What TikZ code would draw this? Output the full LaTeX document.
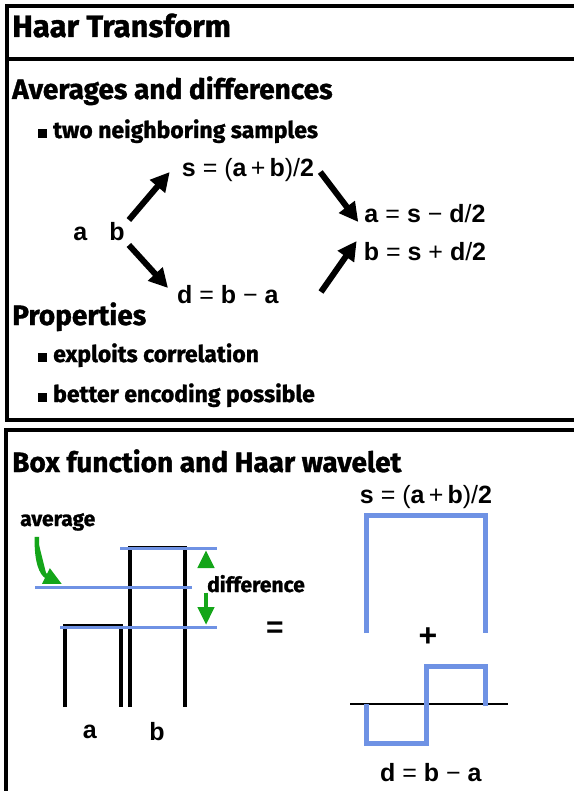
\documentclass[tikz,border=0pt]{standalone}
\usepackage{fontspec}
\setmainfont{Fira Sans}[BoldFeatures={FakeBold=1.2}]
\newfontfamily\formfont{Liberation Sans}
\usetikzlibrary{arrows.meta,positioning}
\definecolor{haarblue}{RGB}{111,146,228}
\definecolor{haargreen}{RGB}{20,165,25}
\newcommand{\sqbul}{\rule{9pt}{9pt}\hspace{6pt}}
\newcommand{\vb}[1]{\textbf{#1}}

\begin{document}
\begin{tikzpicture}[x=1pt, y=-1pt,
    frame/.style={line width=3.5pt},
    title/.style={font=\fontsize{31}{31}\selectfont\bfseries, anchor=base west, inner sep=0pt},
    head/.style={font=\fontsize{28}{28}\selectfont\bfseries, anchor=base west, inner sep=0pt},
    item/.style={font=\fontsize{23}{23}\selectfont\bfseries, anchor=base west, inner sep=0pt},
    form/.style={font=\formfont\fontsize{25}{25}\selectfont, inner sep=2pt},
    flow/.style={-{Triangle[length=19pt,width=19pt]}, line width=6pt},
    pointer/.style={-{Triangle[length=18pt,width=16pt]}, line width=4.5pt, draw=haargreen, fill=haargreen},
    bar/.style={line width=4pt},
    level/.style={draw=haarblue, line width=3pt},
    wave/.style={draw=haarblue, line width=5pt}
]
\useasboundingbox[fill=white] (0,0) rectangle (573,791);

% frames
\draw[frame] (576,6) -- (7,6) -- (7,420) -- (576,420);
\draw[frame] (7,59) -- (576,59);
\draw[frame] (576,430) -- (6,430) -- (6,795);

\node[title] (ttl) at (12,37) {Haar Transform};
\node[head] (avghead) at (12,99) {Averages and differences};
\node[item] (two) at (38,138) {\sqbul two neighboring samples};
\node[head] (prophead) at (12,325) {Properties};
\node[item] (expl) at (38,362) {\sqbul exploits correlation};
\node[item] (enc) at (38,402) {\sqbul better encoding possible};
\node[head] (boxhead) at (12,472) {Box function and Haar wavelet};

\node[form] (ab) at (99,232) {\vb{a}\hspace{22pt}\vb{b}};
\node[form] (s) at (248,170) {\vb{s} = (\vb{a}\,+\,\vb{b})/\vb{2}};
\node[form] (d) at (228,295) {\vb{d} = \vb{b} − \vb{a}};
\node[form] (ra) at (425,214) {\vb{a} = \vb{s} − \vb{d}/\vb{2}};
\node[form] (rb) at (425,252) {\vb{b} = \vb{s} + \vb{d}/\vb{2}};

\draw[flow] ([xshift=2pt,yshift=12pt]ab.east) -- ([xshift=-10pt,yshift=-2pt]s.west);
\draw[flow] ([xshift=2pt,yshift=-13pt]ab.east) -- ([xshift=-7pt,yshift=7pt]d.west);
\draw[flow] ([xshift=4pt,yshift=-2pt]s.east) -- ([xshift=-4pt,yshift=-8pt]ra.west);
\draw[flow] ([xshift=40pt,yshift=3pt]d.east) -- ([xshift=-5pt,yshift=11pt]rb.west);

% box function
\draw[bar] (65,707) -- (65,626) -- (121,626) -- (121,707);
\draw[bar] (130,707) -- (130,548) -- (185,548) -- (185,707);
\draw[level] (120,548) -- (217,548);
\draw[level] (35,587) -- (192,587);
\draw[level] (60,627) -- (217,627);

\node[item, font=\fontsize{21}{21}\selectfont\bfseries] (avg) at (20,526) {average};
\coordinate (avgend) at (62,584);
\draw[pointer] ([xshift=17pt,yshift=-6pt]avg.south west) .. controls (36,562) and (42,574) .. (avgend);

\node[item, font=\fontsize{21}{21}\selectfont\bfseries] (diff) at (207,592) {difference};
\coordinate (dtop) at (206,550);
\coordinate (dbot) at (206,625);
\draw[pointer] ([xshift=-1pt,yshift=16pt]diff.west) -- (dtop);
\draw[pointer] ([xshift=-1pt,yshift=-9pt]diff.west) -- (dbot);

\node[form] (la) at (90,732) {\vb{a}};
\node[form] (lb) at (157,732) {\vb{b}};

\node[font=\formfont\fontsize{30}{30}\selectfont\bfseries] (eq) at (275,630) {=};

% Haar wavelet
\node[form] (s2) at (426,497) {\vb{s} = (\vb{a}\,+\,\vb{b})/\vb{2}};
\draw[wave] (366,633) -- (366,515) -- (485,515) -- (485,633);
\node[font=\formfont\fontsize{32}{32}\selectfont\bfseries] (plus) at (428,637) {+};
\draw[line width=1.5pt] (350,704) -- (508,704);
\draw[wave] (366,704) -- (366,743) -- (426,743) -- (426,666) -- (485,666) -- (485,706);
\node[form] (d2) at (431,773) {\vb{d} = \vb{b} − \vb{a}};

\end{tikzpicture}
\end{document}
